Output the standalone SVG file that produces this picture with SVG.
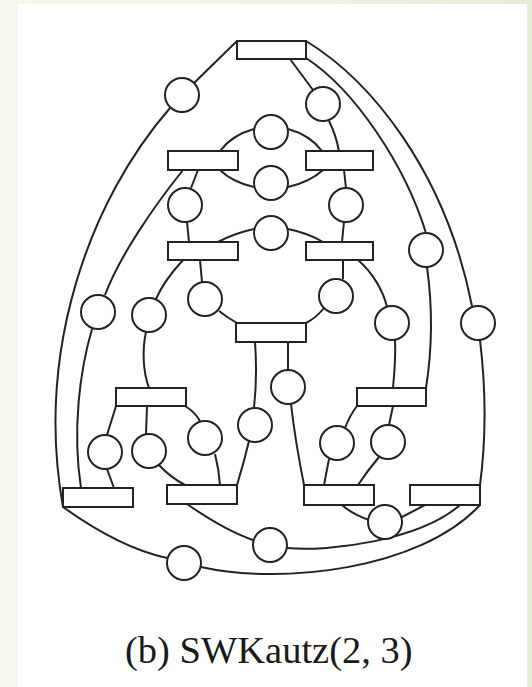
<svg xmlns="http://www.w3.org/2000/svg" width="532" height="687" viewBox="0 0 532 687">
<defs>
<linearGradient id="bg" x1="0" y1="0" x2="1" y2="0">
<stop offset="0" stop-color="#f6f8ef"/>
<stop offset="1" stop-color="#e6eed6"/>
</linearGradient>
<style>
.e{fill:none;stroke:#222;stroke-width:2}
.c{fill:#fff;stroke:#222;stroke-width:2}
.r{fill:#fff;stroke:#222;stroke-width:2}
.t{font-family:"Liberation Serif","Times New Roman",serif;font-size:38.5px;fill:#1a1a1a}
</style>
</defs>
<rect x="0" y="0" width="532" height="687" fill="url(#bg)"/>
<rect x="18" y="4" width="509" height="683" fill="#fff"/>
<g id="connectors">
<path class="e" d="M237,41 L194,83"/>
<path class="e" d="M290,59 L313,90"/>
<path class="e" d="M306,41 C370,80 445,170 472,306"/>
<path class="e" d="M306,58 C355,90 405,165 426,233"/>
<path class="e" d="M170,108 C90,200 35,350 63,507"/>
<path class="e" d="M63,507 C95,530 130,550 167,558"/>
<path class="e" d="M201,567 C280,585 420,570 480,505"/>
<path class="e" d="M287,548 C330,552 420,540 460,505"/>
<path class="e" d="M402,517 L425,505"/>
<path class="e" d="M342,505 Q352,514 369,520"/>
<path class="e" d="M187,504 C210,520 230,532 253,540"/>
<path class="e" d="M183,170 C155,205 120,255 105,295"/>
<path class="e" d="M92,329 C80,370 72,430 81,488"/>
<path class="e" d="M198,170 L191,188"/>
<path class="e" d="M220,170 Q232,182 254,187"/>
<path class="e" d="M288,187 Q310,182 323,170"/>
<path class="e" d="M254,129 Q232,135 220,151"/>
<path class="e" d="M288,129 Q310,135 322,151"/>
<path class="e" d="M329,121 Q336,135 339,151"/>
<path class="e" d="M344,170 L346,188"/>
<path class="e" d="M187,222 L189,242"/>
<path class="e" d="M344,222 L342,242"/>
<path class="e" d="M254,229 Q235,233 218,242"/>
<path class="e" d="M288,229 Q308,233 323,242"/>
<path class="e" d="M183,260 C172,272 162,285 156,299"/>
<path class="e" d="M200,260 L202,282"/>
<path class="e" d="M219,311 Q228,318 237,323"/>
<path class="e" d="M343,260 L343,279"/>
<path class="e" d="M324,308 Q316,318 306,323"/>
<path class="e" d="M358,260 C372,272 383,290 387,307"/>
<path class="e" d="M395,340 C396,360 394,375 393,388"/>
<path class="e" d="M427,267 C433,310 432,350 426,388"/>
<path class="e" d="M480,340 C486,390 486,440 480,485"/>
<path class="e" d="M146,332 C142,350 143,372 149,388"/>
<path class="e" d="M255,342 C257,370 256,390 254,408"/>
<path class="e" d="M288,342 L288,370"/>
<path class="e" d="M291,404 C294,430 299,460 304,485"/>
<path class="e" d="M116,406 L107,435"/>
<path class="e" d="M147,406 L146,434"/>
<path class="e" d="M185,406 Q195,412 200,421"/>
<path class="e" d="M107,469 L114,488"/>
<path class="e" d="M159,465 Q170,477 185,485"/>
<path class="e" d="M215,454 Q219,470 220,485"/>
<path class="e" d="M249,441 C245,458 241,472 237,485"/>
<path class="e" d="M357,406 Q350,415 345,428"/>
<path class="e" d="M393,406 L389,425"/>
<path class="e" d="M329,459 L324,485"/>
<path class="e" d="M379,457 Q368,470 358,485"/>
</g>
<g id="T"><rect class="r" x="237" y="41" width="69" height="18"/></g>
<g id="L1"><rect class="r" x="168" y="151" width="70" height="19"/></g>
<g id="R1"><rect class="r" x="306" y="151" width="67" height="19"/></g>
<g id="L2"><rect class="r" x="168" y="242" width="70" height="18"/></g>
<g id="R2"><rect class="r" x="306" y="242" width="67" height="18"/></g>
<g id="M"><rect class="r" x="236" y="323" width="70" height="19"/></g>
<g id="L3"><rect class="r" x="116" y="388" width="70" height="18"/></g>
<g id="R3"><rect class="r" x="357" y="388" width="69" height="18"/></g>
<g id="BL1"><rect class="r" x="63" y="488" width="70" height="19"/></g>
<g id="BL2"><rect class="r" x="167" y="485" width="70" height="19"/></g>
<g id="BR1"><rect class="r" x="304" y="485" width="70" height="20"/></g>
<g id="BR2"><rect class="r" x="410" y="485" width="70" height="20"/></g>
<g id="cA"><circle class="c" cx="182" cy="95" r="17"/></g>
<g id="cB"><circle class="c" cx="323" cy="104" r="17"/></g>
<g id="cC"><circle class="c" cx="271" cy="132" r="17"/></g>
<g id="cD"><circle class="c" cx="271" cy="183" r="17"/></g>
<g id="cE"><circle class="c" cx="185" cy="205" r="17"/></g>
<g id="cF"><circle class="c" cx="346" cy="205" r="17"/></g>
<g id="cG"><circle class="c" cx="271" cy="233" r="17"/></g>
<g id="cQ"><circle class="c" cx="426" cy="250" r="17"/></g>
<g id="cH"><circle class="c" cx="98" cy="312" r="17"/></g>
<g id="cI"><circle class="c" cx="149" cy="315" r="17"/></g>
<g id="cJ"><circle class="c" cx="205" cy="299" r="17"/></g>
<g id="cK"><circle class="c" cx="336" cy="296" r="17"/></g>
<g id="cL"><circle class="c" cx="392" cy="323" r="17"/></g>
<g id="cN"><circle class="c" cx="478" cy="323" r="17"/></g>
<g id="cP"><circle class="c" cx="288" cy="387" r="17"/></g>
<g id="cS4"><circle class="c" cx="255" cy="425" r="17"/></g>
<g id="cS1"><circle class="c" cx="105" cy="452" r="17"/></g>
<g id="cS2"><circle class="c" cx="149" cy="451" r="17"/></g>
<g id="cS3"><circle class="c" cx="205" cy="438" r="17"/></g>
<g id="cW1"><circle class="c" cx="337" cy="443" r="17"/></g>
<g id="cW2"><circle class="c" cx="388" cy="442" r="17"/></g>
<g id="cX"><circle class="c" cx="385" cy="522" r="17"/></g>
<g id="cU"><circle class="c" cx="270" cy="545" r="17"/></g>
<g id="cV"><circle class="c" cx="184" cy="563" r="17"/></g>
<g id="caption"><text class="t" x="125" y="663">(b) SWKautz(2, 3)</text></g>
</svg>
